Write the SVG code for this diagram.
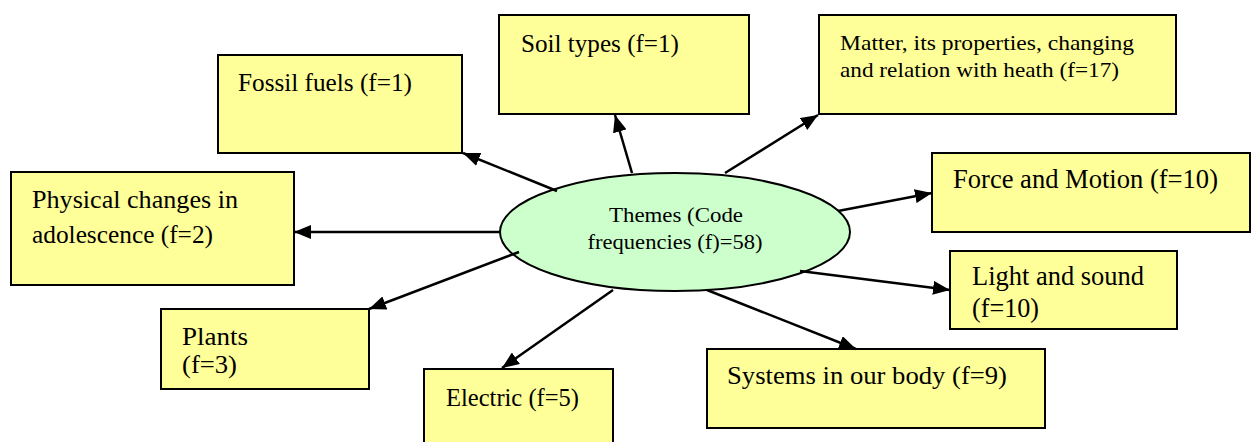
<svg xmlns="http://www.w3.org/2000/svg" width="1252" height="442" viewBox="0 0 1252 442">
<style>
.box{fill:#FFFF99;stroke:#000;stroke-width:2}
.ell{fill:#CCFFCC;stroke:#000;stroke-width:2}
.t{font-family:"Liberation Serif","Times New Roman",serif;font-size:25px;fill:#000}
.s{font-size:22px}
.m{font-size:21px}
.b{font-size:26.5px}
.conn line{stroke:#000;stroke-width:2.5;marker-end:url(#ah)}
</style>
<defs>
<marker id="ah" markerUnits="userSpaceOnUse" markerWidth="18" markerHeight="14" refX="17" refY="7" orient="auto">
<path d="M0,0 L17,7 L0,14 Z" fill="#000"/>
</marker>
</defs>
<rect width="1252" height="442" fill="#fff"/>
<g id="fossil"><rect class="box" x="218" y="55" width="244" height="98"/><text class="t" x="238" y="91" textLength="174" lengthAdjust="spacingAndGlyphs">Fossil fuels (f=1)</text></g>
<g id="soil"><rect class="box" x="499" y="15" width="250" height="99"/><text class="t" x="521" y="52" textLength="158" lengthAdjust="spacingAndGlyphs">Soil types (f=1)</text></g>
<g id="matter"><rect class="box" x="819" y="15" width="357" height="99"/><text class="t s" x="840" y="50" textLength="294" lengthAdjust="spacingAndGlyphs">Matter, its properties, changing</text><text class="t s" x="840" y="77" textLength="279" lengthAdjust="spacingAndGlyphs">and relation with heath (f=17)</text></g>
<g id="force"><rect class="box" x="932" y="153" width="318" height="79"/><text class="t b" x="953" y="188" textLength="265" lengthAdjust="spacingAndGlyphs">Force and Motion (f=10)</text></g>
<g id="physical"><rect class="box" x="11" y="172" width="283" height="113"/><text class="t" x="32" y="208" textLength="206" lengthAdjust="spacingAndGlyphs">Physical changes in</text><text class="t" x="32" y="243" textLength="181" lengthAdjust="spacingAndGlyphs">adolescence (f=2)</text></g>
<g id="plants"><rect class="box" x="161" y="309" width="208" height="80"/><text class="t" x="182" y="345" textLength="66" lengthAdjust="spacingAndGlyphs">Plants</text><text class="t" x="182" y="373" textLength="55" lengthAdjust="spacingAndGlyphs">(f=3)</text></g>
<g id="electric"><rect class="box" x="424" y="369" width="189" height="80"/><text class="t" x="446" y="406" textLength="133" lengthAdjust="spacingAndGlyphs">Electric (f=5)</text></g>
<g id="systems"><rect class="box" x="707" y="349" width="338" height="79"/><text class="t" x="727" y="384" textLength="280" lengthAdjust="spacingAndGlyphs">Systems in our body (f=9)</text></g>
<g id="light"><rect class="box" x="950" y="251" width="227" height="78"/><text class="t b" x="972" y="285" textLength="172" lengthAdjust="spacingAndGlyphs">Light and sound</text><text class="t b" x="972" y="317" textLength="67" lengthAdjust="spacingAndGlyphs">(f=10)</text></g>
<g id="themes"><ellipse class="ell" cx="675" cy="232" rx="175" ry="59"/><text class="t m" x="676" y="222" text-anchor="middle" textLength="134" lengthAdjust="spacingAndGlyphs">Themes (Code</text><text class="t m" x="675" y="249" text-anchor="middle" textLength="175" lengthAdjust="spacingAndGlyphs">frequencies (f)=58)</text></g>
<g id="connectors" class="conn">
<line x1="557" y1="191" x2="463" y2="153"/>
<line x1="632" y1="173" x2="615" y2="115"/>
<line x1="725" y1="173" x2="818" y2="115"/>
<line x1="838" y1="211" x2="932" y2="193"/>
<line x1="500" y1="232" x2="294" y2="232"/>
<line x1="519" y1="252" x2="369" y2="309"/>
<line x1="613" y1="290" x2="502" y2="368"/>
<line x1="707" y1="290" x2="856" y2="349"/>
<line x1="800" y1="271" x2="950" y2="290"/>
</g>
</svg>
